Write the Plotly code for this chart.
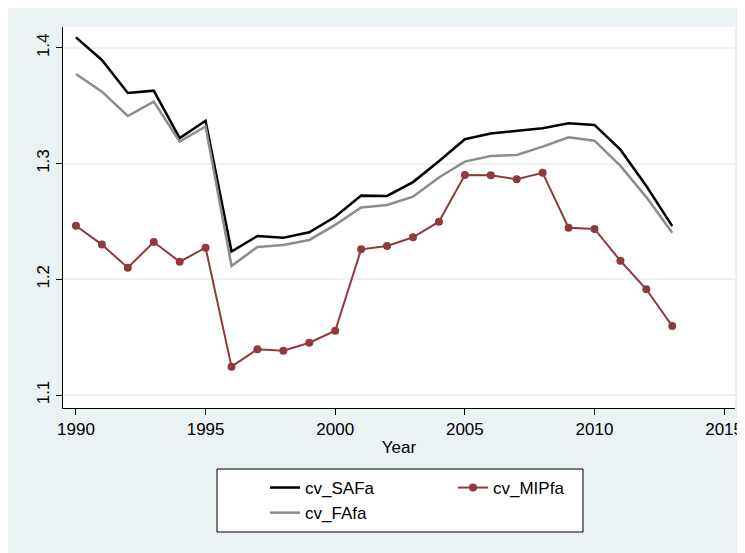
import plotly.graph_objects as go

years = list(range(1990, 2014))
cv_SAFa = [1.409, 1.3895, 1.361, 1.363, 1.322, 1.337, 1.224, 1.2374, 1.236, 1.2406,
           1.254, 1.2723, 1.272, 1.284, 1.302, 1.321, 1.326, 1.3284, 1.3305, 1.3348,
           1.3334, 1.312, 1.2806, 1.246]
cv_FAfa = [1.3774, 1.3621, 1.3411, 1.3535, 1.319, 1.332, 1.2115, 1.228, 1.2296, 1.234,
           1.247, 1.262, 1.2642, 1.2714, 1.288, 1.3017, 1.3066, 1.3074, 1.3146, 1.3227,
           1.3198, 1.298, 1.271, 1.2403]
cv_MIPfa = [1.2463, 1.230, 1.210, 1.2322, 1.2152, 1.2273, 1.1245, 1.1395, 1.1383, 1.1452,
            1.1556, 1.2259, 1.2288, 1.2363, 1.2498, 1.2901, 1.290, 1.2864, 1.292, 1.2446,
            1.2435, 1.216, 1.1914, 1.1596]

x_ticks = [1990, 1995, 2000, 2005, 2010, 2015]
y_ticks = [1.1, 1.2, 1.3, 1.4]
y_labels = ["1.1", "1.2", "1.3", "1.4"]

BG = "#EAF2F3"
FONT = "Liberation Sans, Arial, sans-serif"
OFF = 8  # page body margin
W, H = 737, 545
ML, MR, MT, MB = 55, 10, 19, 145
PW = W - ML - MR
PH = H - MT - MB

def px(xp):
    return (xp - OFF - ML) / PW

def py(yp):
    return (H - MB - (yp - OFF)) / PH

fig = go.Figure()
fig.add_trace(go.Scatter(x=years, y=cv_SAFa, name="cv_SAFa", mode="lines",
                         line=dict(color="#000000", width=2.5), legend="legend"))
fig.add_trace(go.Scatter(x=years, y=cv_MIPfa, name="cv_MIPfa", mode="lines+markers",
                         line=dict(color="#903A3F", width=2),
                         marker=dict(color="#903A3F", size=8, symbol="circle"),
                         legend="legend2"))
fig.add_trace(go.Scatter(x=years, y=cv_FAfa, name="cv_FAfa", mode="lines",
                         line=dict(color="#8C8C8C", width=2.5), legend="legend"))

axis_font = dict(family=FONT, size=17, color="#000000")

fig.update_layout(
    width=W, height=H,
    margin=dict(l=ML, r=MR, t=MT, b=MB, autoexpand=False),
    paper_bgcolor=BG,
    plot_bgcolor="#FFFFFF",
    font=axis_font,
    showlegend=True,
    xaxis=dict(range=[1989.5, 2015.42], tickvals=x_ticks, ticks="outside", ticklen=6,
               tickcolor="#000000", showline=True, linecolor="#000000", linewidth=1,
               showgrid=False, zeroline=False, tickfont=axis_font, automargin=False,
               title=dict(text="Year", font=axis_font, standoff=2)),
    yaxis=dict(range=[1.0888, 1.418], tickvals=y_ticks, ticktext=y_labels, tickangle=-90,
               ticks="outside", ticklen=6, tickcolor="#000000", showline=True,
               linecolor="#000000", linewidth=1, showgrid=True, gridcolor=BG, gridwidth=1.5,
               zeroline=False, tickfont=axis_font, automargin=False),
    legend=dict(x=px(265), y=py(470), xanchor="left", yanchor="top",
                bgcolor="rgba(0,0,0,0)", borderwidth=0, font=axis_font,
                orientation="v", tracegroupgap=0),
    legend2=dict(x=px(453), y=py(470), xanchor="left", yanchor="top",
                 bgcolor="rgba(0,0,0,0)", borderwidth=0, font=axis_font,
                 orientation="v"),
    shapes=[
        dict(type="rect", xref="paper", yref="paper", x0=px(217), x1=px(583),
             y0=py(532), y1=py(469), line=dict(color="#000000", width=1),
             fillcolor="#FFFFFF", layer="below"),
    ],
)

fig.write_html("out.html")
